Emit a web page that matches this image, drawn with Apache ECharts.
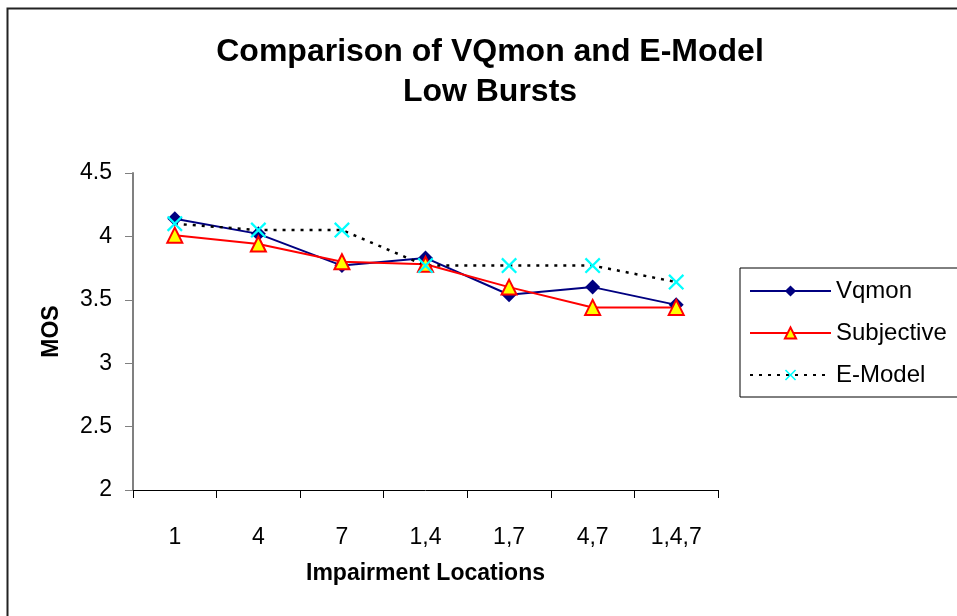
<!DOCTYPE html>
<html>
<head>
<meta charset="utf-8">
<title>Comparison of VQmon and E-Model</title>
<script src="https://cdn.jsdelivr.net/npm/echarts@6/dist/echarts.min.js"></script>
<style>
  html, body { margin: 0; padding: 0; background: #fff; }
  #main { width: 957px; height: 616px; }
</style>
</head>
<body>
<div id="main"></div>
<script>
// impairment locations on the x axis
var categories = ['1', '4', '7', '1,4', '1,7', '4,7', '1,4,7'];
// MOS values
var vqmon = [4.14, 4.02, 3.77, 3.83, 3.54, 3.60, 3.46];
var subjective = [4.01, 3.94, 3.80, 3.78, 3.60, 3.44, 3.44];
var eModel = [4.10, 4.05, 4.05, 3.77, 3.77, 3.77, 3.64];

var font = 'Liberation Sans, Arial, sans-serif';
// filled cross shape for the E-Model marker
var crossPath = 'path://M0,1L1,0L5,4L9,0L10,1L6,5L10,9L9,10L5,6L1,10L0,9L4,5Z';

var chart = echarts.init(document.getElementById('main'));

chart.setOption({
  animation: false,
  backgroundColor: '#fff',
  graphic: [{
    type: 'rect',
    left: 5,
    top: 6,
    shape: { width: 1000, height: 1000 },
    style: { fill: 'none', stroke: '#222', lineWidth: 2 },
    silent: true
  }],
  title: {
    text: 'Comparison of VQmon and E-Model\nLow Bursts',
    left: 490,
    textAlign: 'center',
    top: 32,
    padding: 0,
    textStyle: {
      fontFamily: font,
      fontSize: 32,
      fontWeight: 'bold',
      color: '#000',
      lineHeight: 40
    }
  },
  grid: {
    left: 133,
    right: 239,
    top: 173,
    bottom: 126
  },
  legend: {
    orient: 'vertical',
    left: 740,
    top: 268,
    padding: [11, 30, 10, 9],
    itemWidth: 81,
    itemHeight: 14,
    itemGap: 18,
    backgroundColor: '#fff',
    borderColor: '#000',
    borderWidth: 1,
    textStyle: {
      fontFamily: font,
      fontSize: 24,
      color: '#000'
    },
    data: ['Vqmon', 'Subjective', 'E-Model']
  },
  xAxis: {
    type: 'category',
    data: categories,
    boundaryGap: true,
    name: 'Impairment Locations',
    nameLocation: 'middle',
    nameGap: 72,
    nameTextStyle: {
      fontFamily: font,
      fontSize: 23,
      fontWeight: 'bold',
      color: '#000'
    },
    axisLine: { lineStyle: { color: '#000', width: 1 } },
    axisTick: { show: true, length: 8, lineStyle: { color: '#000' } },
    axisLabel: {
      margin: 36,
      fontFamily: font,
      fontSize: 23,
      color: '#000'
    },
    splitLine: { show: false }
  },
  yAxis: {
    type: 'value',
    min: 2,
    max: 4.5,
    interval: 0.5,
    name: 'MOS',
    nameLocation: 'middle',
    nameGap: 70,
    nameRotate: 90,
    nameTextStyle: {
      fontFamily: font,
      fontSize: 23,
      fontWeight: 'bold',
      color: '#000'
    },
    axisLine: { show: true, lineStyle: { color: '#808080', width: 2 } },
    axisTick: { show: true, length: 8, lineStyle: { color: '#808080' } },
    axisLabel: {
      margin: 21,
      fontFamily: font,
      fontSize: 23,
      color: '#000'
    },
    splitLine: { show: false }
  },
  series: [{
    name: 'Vqmon',
    type: 'line',
    data: vqmon,
    symbol: 'diamond',
    symbolSize: 15,
    lineStyle: { color: '#000080', width: 2 },
    itemStyle: { color: '#000080' }
  }, {
    name: 'Subjective',
    type: 'line',
    data: subjective,
    symbol: 'triangle',
    symbolSize: 15,
    lineStyle: { color: '#ff0000', width: 2 },
    itemStyle: { color: '#ffff00', borderColor: '#ff0000', borderWidth: 2 }
  }, {
    name: 'E-Model',
    type: 'line',
    data: eModel,
    symbol: crossPath,
    symbolSize: 16,
    lineStyle: { color: '#000', width: 2.5, type: [3, 6] },
    itemStyle: { color: '#00ffff' }
  }]
});
</script>
</body>
</html>
